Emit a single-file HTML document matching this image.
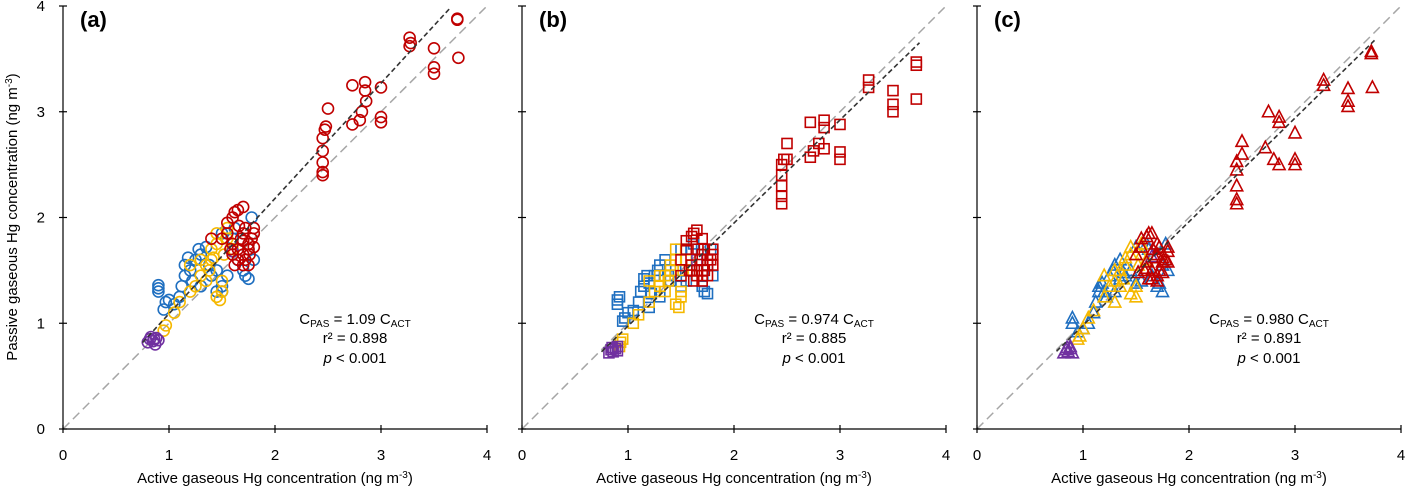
<!DOCTYPE html>
<html><head><meta charset="utf-8">
<style>
html,body{margin:0;padding:0;background:#fff;}
svg{display:block;font-family:"Liberation Sans",Arial,sans-serif;}
</style></head>
<body>
<svg id="chart" width="1410" height="489" viewBox="0 0 1410 489" xmlns="http://www.w3.org/2000/svg">
<text transform="translate(17,217) rotate(-90)" text-anchor="middle" font-size="15">Passive gaseous Hg concentration (ng m<tspan baseline-shift="super" font-size="10">-3</tspan>)</text>
</svg>
<script>
// ---------- data ----------
const tickValues = [0,1,2,3,4];
const panelLabels = ["(a)","(b)","(c)"];
const slopes = [1.09, 0.974, 0.980];
const slopeText = ["1.09","0.974","0.980"];
const r2Text = ["0.898","0.885","0.891"];

const redHighA = [[2.45,2.40],[2.45,2.43],[2.45,2.52],[2.45,2.63],[2.45,2.75],[2.47,2.83],[2.48,2.86],[2.5,3.03],[2.73,2.88],[2.73,3.25],[2.8,2.92],[2.82,3.0],[2.85,3.2],[2.85,3.28],[2.86,3.1],[3.0,2.9],[3.0,2.95],[3.0,3.23],[3.27,3.62],[3.27,3.7],[3.28,3.65],[3.5,3.36],[3.5,3.42],[3.5,3.6],[3.72,3.87],[3.72,3.88],[3.73,3.51]];
const redClusterA = [[1.5,1.8],[1.55,1.85],[1.55,1.95],[1.6,2.0],[1.62,2.05],[1.65,2.07],[1.7,2.1],[1.6,1.75],[1.65,1.7],[1.7,1.65],[1.72,1.6],[1.75,1.55],[1.8,1.85],[1.8,1.9],[1.78,1.8],[1.75,1.75],[1.7,1.85],[1.68,1.8],[1.65,1.6],[1.6,1.65],[1.62,1.55],[1.7,1.55],[1.75,1.7],[1.8,1.72],[1.58,1.7],[1.4,1.8],[1.72,1.9],[1.66,1.92],[1.7,1.78],[1.76,1.65]];
const blueA = [[0.9,1.3],[0.9,1.33],[0.9,1.36],[0.95,1.13],[0.97,1.2],[1.0,1.22],[1.05,1.18],[1.1,1.25],[1.12,1.35],[1.15,1.45],[1.15,1.55],[1.18,1.62],[1.2,1.5],[1.22,1.4],[1.25,1.6],[1.28,1.7],[1.3,1.65],[1.3,1.35],[1.35,1.72],[1.38,1.55],[1.4,1.45],[1.45,1.5],[1.5,1.35],[1.5,1.3],[1.55,1.45],[1.6,1.8],[1.62,1.9],[1.65,1.6],[1.7,1.5],[1.72,1.45],[1.75,1.42],[1.78,2.0],[1.8,1.6],[1.75,1.7],[1.5,1.85],[1.45,1.3]];
const yellowA = [[0.95,0.93],[0.97,0.98],[1.05,1.1],[1.1,1.2],[1.2,1.3],[1.25,1.35],[1.3,1.45],[1.35,1.55],[1.4,1.6],[1.4,1.7],[1.45,1.75],[1.45,1.25],[1.5,1.3],[1.5,1.4],[1.52,1.65],[1.55,1.8],[1.55,1.9],[1.6,1.7],[1.35,1.4],[1.3,1.6],[1.2,1.55],[1.45,1.85],[1.48,1.22],[1.38,1.5],[1.42,1.62]];
const purpleA = [[0.8,0.82],[0.82,0.85],[0.85,0.83],[0.87,0.8],[0.88,0.86],[0.9,0.84],[0.83,0.87],[0.86,0.85],[1.6,1.68]];

const redHighB = [[2.45,2.13],[2.45,2.2],[2.45,2.3],[2.45,2.4],[2.45,2.5],[2.47,2.55],[2.5,2.55],[2.72,2.57],[2.75,2.63],[2.8,2.7],[2.85,2.65],[2.85,2.85],[2.85,2.92],[2.72,2.9],[3.0,2.55],[3.0,2.62],[3.0,2.88],[3.27,3.23],[3.27,3.3],[3.5,3.0],[3.5,3.07],[3.5,3.2],[3.72,3.12],[3.72,3.44],[3.72,3.47],[2.5,2.7]];
const redClusterB = [[1.5,1.6],[1.55,1.7],[1.55,1.78],[1.6,1.82],[1.62,1.85],[1.65,1.88],[1.7,1.8],[1.6,1.55],[1.65,1.5],[1.7,1.45],[1.72,1.5],[1.75,1.45],[1.8,1.65],[1.8,1.7],[1.78,1.6],[1.75,1.55],[1.7,1.65],[1.68,1.6],[1.65,1.45],[1.6,1.5],[1.62,1.4],[1.7,1.4],[1.75,1.6],[1.8,1.55],[1.58,1.5],[1.5,1.45],[1.72,1.7],[1.66,1.7]];
const blueB = [[0.9,1.18],[0.9,1.22],[0.92,1.25],[0.95,1.02],[0.97,1.05],[1.0,1.1],[1.05,1.12],[1.1,1.2],[1.12,1.3],[1.15,1.35],[1.15,1.42],[1.18,1.45],[1.2,1.38],[1.22,1.28],[1.25,1.45],[1.28,1.5],[1.3,1.55],[1.3,1.25],[1.35,1.6],[1.38,1.45],[1.4,1.4],[1.45,1.5],[1.5,1.35],[1.55,1.4],[1.6,1.7],[1.62,1.75],[1.65,1.5],[1.7,1.35],[1.72,1.3],[1.75,1.28],[1.78,1.7],[1.8,1.45],[1.75,1.55],[1.5,1.7],[1.2,1.15]];
const yellowB = [[0.92,0.78],[0.93,0.82],[0.95,0.85],[1.05,1.0],[1.1,1.08],[1.2,1.2],[1.25,1.3],[1.3,1.35],[1.35,1.45],[1.4,1.5],[1.4,1.55],[1.45,1.6],[1.45,1.18],[1.5,1.25],[1.5,1.3],[1.52,1.5],[1.55,1.6],[1.55,1.7],[1.6,1.55],[1.35,1.3],[1.3,1.45],[1.2,1.4],[1.45,1.7],[1.48,1.15],[1.38,1.4]];
const purpleB = [[0.82,0.72],[0.84,0.75],[0.86,0.73],[0.88,0.76],[0.9,0.74],[0.9,0.78],[0.85,0.77],[1.65,1.6]];

const redHighC = [[2.45,2.13],[2.45,2.17],[2.45,2.3],[2.45,2.45],[2.45,2.53],[2.5,2.6],[2.5,2.72],[2.72,2.66],[2.75,3.0],[2.8,2.55],[2.85,2.5],[2.85,2.9],[2.85,2.95],[3.0,2.5],[3.0,2.55],[3.0,2.8],[3.27,3.25],[3.27,3.3],[3.5,3.05],[3.5,3.1],[3.5,3.22],[3.72,3.55],[3.72,3.57],[3.73,3.23]];
const redClusterC = [[1.5,1.65],[1.55,1.72],[1.55,1.8],[1.6,1.82],[1.62,1.85],[1.65,1.85],[1.7,1.75],[1.6,1.58],[1.65,1.5],[1.7,1.45],[1.72,1.5],[1.75,1.48],[1.8,1.68],[1.8,1.72],[1.78,1.6],[1.75,1.58],[1.7,1.65],[1.68,1.62],[1.65,1.42],[1.6,1.52],[1.62,1.42],[1.7,1.4],[1.75,1.62],[1.8,1.58],[1.58,1.5],[1.52,1.48],[1.72,1.72],[1.66,1.7]];
const blueC = [[0.9,1.0],[0.9,1.05],[0.95,0.92],[1.0,0.95],[1.05,1.0],[1.1,1.1],[1.12,1.2],[1.15,1.3],[1.15,1.35],[1.18,1.38],[1.2,1.3],[1.22,1.25],[1.25,1.45],[1.28,1.5],[1.3,1.55],[1.3,1.3],[1.35,1.6],[1.38,1.48],[1.4,1.45],[1.45,1.5],[1.5,1.38],[1.55,1.4],[1.6,1.75],[1.62,1.7],[1.65,1.45],[1.7,1.35],[1.72,1.38],[1.75,1.3],[1.78,1.75],[1.8,1.5],[1.75,1.55],[1.5,1.72],[1.35,1.42]];
const yellowC = [[0.95,0.85],[0.97,0.88],[1.05,1.05],[1.1,1.12],[1.2,1.25],[1.25,1.35],[1.3,1.4],[1.35,1.5],[1.4,1.55],[1.4,1.62],[1.45,1.65],[1.45,1.28],[1.5,1.25],[1.5,1.35],[1.52,1.55],[1.55,1.65],[1.55,1.75],[1.6,1.6],[1.35,1.35],[1.3,1.5],[1.2,1.45],[1.45,1.72],[1.3,1.2],[1.38,1.42],[1.0,0.95]];
const purpleC = [[0.82,0.72],[0.84,0.75],[0.86,0.73],[0.88,0.76],[0.9,0.72],[0.88,0.78],[0.85,0.77],[1.65,1.63]];

const panelSeries = [
  [blueA, yellowA, purpleA, redClusterA, redHighA],
  [blueB, yellowB, purpleB, redClusterB, redHighB],
  [blueC, yellowC, purpleC, redClusterC, redHighC]
];
const seriesColors = ["#1f6fc0","#f5b800","#7030a0","#c00000","#c00000"];
const seriesNames = ["blue-site","yellow-site","purple-site","red-site-cluster","red-site-high"];
const markerShapes = ["circle","square","triangle"];

// ---------- layout ----------
const panelX0 = [63, 522, 977];
const xSpan = 424, yTop = 6, yBottom = 429;
const svg = document.getElementById('chart');
const NS = "http://www.w3.org/2000/svg";
function mk(tag, attrs, parent){
  const e = document.createElementNS(NS, tag);
  for (const k in attrs) e.setAttribute(k, attrs[k]);
  (parent||svg).appendChild(e);
  return e;
}

panelSeries.forEach((series, p) => {
  const x0 = panelX0[p];
  const xs = v => x0 + v / 4 * xSpan;
  const ys = v => yBottom - v / 4 * (yBottom - yTop);
  const g = mk('g', {});
  
  

  const one = mk('line', {x1: xs(0), y1: ys(0), x2: xs(4), y2: ys(4), stroke: '#a6a6a6', 'stroke-width': 1.5, 'stroke-dasharray': '9,5'}, g);
  
  

  series.forEach((pts, s) => {
    const sg = mk('g', {fill: 'none', stroke: seriesColors[s], 'stroke-width': 1.6}, g);
    
    
    pts.forEach(pt => {
      const cx = xs(pt[0]), cy = ys(pt[1]);
      let m;
      if (markerShapes[p] === 'circle') {
        m = mk('circle', {cx: cx, cy: cy, r: 5.5}, sg);
      } else if (markerShapes[p] === 'square') {
        m = mk('rect', {x: cx - 5, y: cy - 5, width: 10, height: 10}, sg);
      } else {
        m = mk('polygon', {points: `${cx},${cy-6.5} ${cx+6},${cy+5} ${cx-6},${cy+5}`}, sg);
      }
      
      
    });
  });

  const k = slopes[p];
  const xe = Math.min(3.75, 3.99 / k);
  const reg = mk('line', {x1: xs(0.75), y1: ys(0.75 * k), x2: xs(xe), y2: ys(xe * k), stroke: '#333', 'stroke-width': 1.6, 'stroke-dasharray': '5,3'}, g);
  
  

  const ax = mk('path', {d: `M${x0},${yTop} V${yBottom} H${x0 + xSpan}`, stroke: '#000', 'stroke-width': 1.2, fill: 'none'}, g);
  
  
  tickValues.forEach(t => {
    const tx = mk('line', {x1: xs(t), y1: yBottom - 4, x2: xs(t), y2: yBottom + 4, stroke: '#000', 'stroke-width': 1.2}, g);
    
    
    const lab = mk('text', {x: xs(t), y: yBottom + 31, 'text-anchor': 'middle', 'font-size': 15}, g);
    lab.textContent = t;
    
    
    const ty = mk('line', {x1: x0 - 4, y1: ys(t), x2: x0 + 4, y2: ys(t), stroke: '#000', 'stroke-width': 1.2}, g);
    
    
    if (p === 0) {
      const yl = mk('text', {x: x0 - 18, y: ys(t) + 5, 'text-anchor': 'end', 'font-size': 15}, g);
      yl.textContent = t;
      
      
    }
  });

  const xt = mk('text', {x: x0 + xSpan / 2, y: 483, 'text-anchor': 'middle', 'font-size': 15}, g);
  xt.innerHTML = 'Active gaseous Hg concentration (ng m<tspan baseline-shift="super" font-size="10">-3</tspan>)';
  
  

  const pl = mk('text', {x: x0 + 17, y: 27, 'font-size': 22, 'font-weight': 'bold'}, g);
  pl.textContent = panelLabels[p];
  
  

  const cxText = x0 + 292;
  const eq = mk('text', {x: cxText, y: 324, 'text-anchor': 'middle', 'font-size': 15}, g);
  eq.innerHTML = 'C<tspan font-size="10" dy="3">PAS</tspan><tspan dy="-3"> = ' + slopeText[p] + ' C</tspan><tspan font-size="10" dy="3">ACT</tspan>';
  
  
  const r2 = mk('text', {x: cxText, y: 343, 'text-anchor': 'middle', 'font-size': 15}, g);
  r2.textContent = 'r² = ' + r2Text[p];
  
  
  const pv = mk('text', {x: cxText, y: 363, 'text-anchor': 'middle', 'font-size': 15}, g);
  pv.innerHTML = '<tspan font-style="italic">p</tspan> &lt; 0.001';
  
  
});
</script>
</body></html>
